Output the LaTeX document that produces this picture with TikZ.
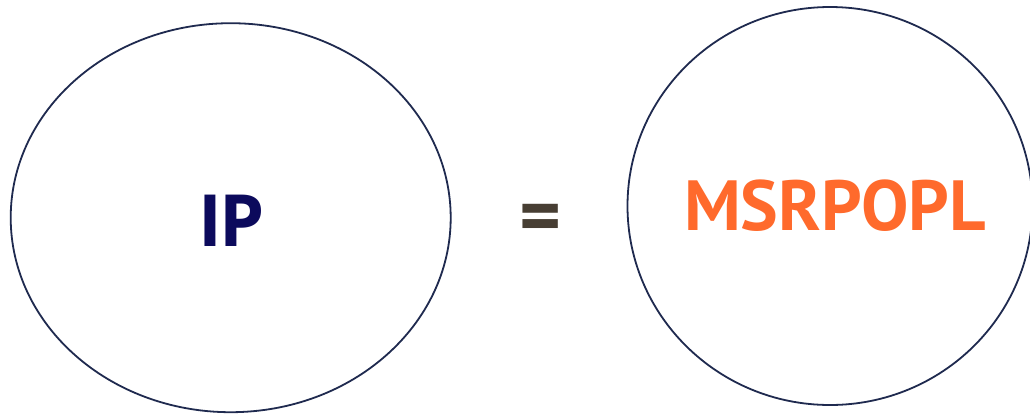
\documentclass[tikz,border=0pt]{standalone}
\usepackage{fontspec}
\setmainfont{PT Sans}
\newfontfamily\ipfont[LetterSpace=-4]{Open Sans}
\usetikzlibrary{shapes.geometric}
\definecolor{ringcol}{HTML}{1F2A4F}
\definecolor{ipcol}{HTML}{0C0A5C}
\definecolor{orangecol}{HTML}{FF6A2C}
\definecolor{eqcol}{HTML}{473E33}
\tikzset{
  ring/.style={ellipse, draw=ringcol, line width=1.8pt, inner sep=0pt},
}
\begin{document}
\begin{tikzpicture}[x=1pt,y=-1pt]
\useasboundingbox (0,0) rectangle (1030,413);
\fill[white] (0,0) rectangle (1030,413);
\node[ring, minimum width=440pt, minimum height=389pt] (left) at (230.7,217.7) {};
\node[ring, minimum width=405pt, minimum height=398pt] (right) at (830,206) {};
\node[text=ipcol, font=\ipfont\bfseries\fontsize{72}{72}\selectfont, anchor=base] (ip) at (232,246.7) {IP};
\node[text=orangecol, font=\bfseries\fontsize{71}{71}\selectfont, anchor=base] (ms) at (835,230) {MSRPOPL};
\node[text=eqcol, font=\bfseries\fontsize{80}{80}\selectfont] (eq) at (541,224) {=};
\end{tikzpicture}
\end{document}
